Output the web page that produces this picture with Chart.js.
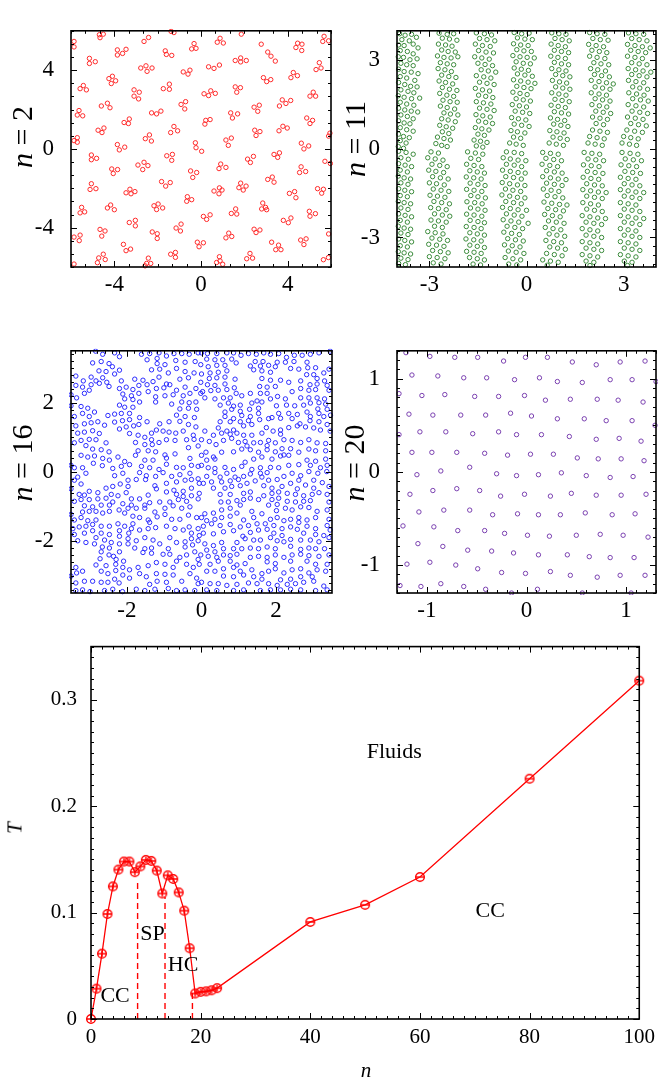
<!DOCTYPE html>
<html>
<head>
<meta charset="utf-8">
<script src="https://cdn.jsdelivr.net/npm/chart.js@4.4.1/dist/chart.umd.min.js"></script>
<style>
  body { margin: 0; background: #fff; width: 661px; height: 1081px; position: relative; overflow: hidden;
         font-family: 'Liberation Serif', 'DejaVu Serif', serif; }
  canvas { position: absolute; }
  .lab { position: absolute; white-space: nowrap; color: #000; transform: translate(-50%, -50%); line-height: 1; }
  .rot { transform: translate(-50%, -50%) rotate(-90deg); }
</style>
</head>
<body>
<canvas id="c1" style="left:0;top:0" width="345" height="300"></canvas>
<canvas id="c2" style="left:330px;top:0" width="331" height="300"></canvas>
<canvas id="c3" style="left:0;top:320px" width="345" height="310"></canvas>
<canvas id="c4" style="left:330px;top:320px" width="331" height="310"></canvas>
<canvas id="c5" style="left:0;top:620px" width="661" height="461"></canvas>

<div class="lab rot" style="left:22px;top:137px;font-size:30px"><i>n</i> = 2</div>
<div class="lab rot" style="left:355px;top:139px;font-size:30px"><i>n</i> = 11</div>
<div class="lab rot" style="left:22px;top:463px;font-size:30px"><i>n</i> = 16</div>
<div class="lab rot" style="left:354px;top:463px;font-size:30px"><i>n</i> = 20</div>
<div class="lab rot" style="left:15px;top:828px;font-size:21px"><i>T</i></div>
<div class="lab" style="left:366px;top:1070px;font-size:21px"><i>n</i></div>

<script>
// snapshots of particle positions, n = 2
var n2Points = [
[-5.86,5.46],[-5.86,5.18],[-4.69,5.8],[-4.51,5.83],[-4.66,5.65],[-2.63,5.46],[-2.42,5.66],[-1.38,5.97],[-1.25,5.91],[-0.32,5.35],[-0.43,5.08],[-0.23,5.11],[0.75,5.42],[0.88,5.62],[1.03,5.38],[1.86,5.83],[2.78,5.32],[4.38,5.15],[4.46,5.37],[4.66,5.32],[4.65,5.0],[5.68,5.72],[5.62,5.46],[5.89,5.49],
[-5.15,4.6],[-5.15,4.34],[-4.88,4.43],[-3.86,5.03],[-3.86,4.77],[-3.62,4.85],[-3.46,5.06],[-1.65,4.98],[-1.6,4.8],[-1.35,4.75],[0.35,4.17],[0.6,4.09],[0.85,4.26],[1.58,4.49],[1.83,4.62],[2.09,4.49],[1.83,4.42],[3.08,4.92],[3.23,4.71],[3.43,4.46],[5.46,4.38],[5.31,4.03],[5.54,4.11],
[-2.78,4.11],[-2.54,4.22],[-2.49,3.94],[-2.26,4.11],[-0.82,3.91],[-0.6,3.8],[-0.51,4.0],[2.88,3.62],[3.03,3.42],[3.22,3.52],[4.15,3.62],[4.26,3.88],[4.45,3.72],[-4.25,3.57],[-4.09,3.69],[-4.14,3.32],[-3.94,3.46],[-5.58,3.06],[-5.43,3.22],[-5.29,3.0],
[-3.09,3.0],[-2.85,2.88],[-3.09,2.68],[-2.88,2.54],[-1.74,3.06],[-1.46,3.29],[-1.46,3.03],[0.14,2.8],[0.35,2.71],[0.45,2.95],[0.66,2.82],[1.58,3.15],[1.82,3.11],[1.65,2.88],[5.18,2.88],[5.03,2.68],[5.29,2.68],
[-5.63,1.95],[-5.71,1.72],[-5.46,1.68],[-4.6,2.18],[-4.32,2.32],[-4.2,2.09],[-0.92,2.26],[-0.71,2.4],[-0.75,2.03],[2.45,2.12],[2.69,2.22],[2.62,1.91],[3.62,2.18],[3.75,2.49],[3.92,2.31],[4.14,2.46],[-2.28,1.83],[-2.05,1.78],[-1.85,1.92],[1.37,1.83],[1.45,1.57],[1.69,1.78],
[-3.55,1.34],[-3.31,1.52],[-3.35,1.29],[-4.75,0.95],[-4.48,1.06],[-4.57,0.83],[-1.4,0.83],[-1.25,1.14],[-1.08,0.92],[0.22,1.45],[0.42,1.49],[0.18,1.26],[2.48,0.95],[2.72,0.88],[2.54,0.68],[3.78,1.15],[3.6,0.92],[3.98,1.06],[4.88,1.57],[5.03,1.29],[5.15,1.45],[5.89,0.65],[5.95,0.8],
[-5.86,0.42],[-5.71,0.57],[-5.71,0.34],[-3.86,0.22],[-3.77,-0.05],[-3.52,0.09],[-2.57,0.52],[-2.38,0.71],[-2.29,0.4],[-0.26,0.31],[-0.23,0.06],[0.03,-0.12],[1.15,0.45],[1.4,0.55],[1.26,0.18],[4.63,0.29],[4.75,0],[4.97,0.15],
[-5.06,-0.31],[-5.06,-0.55],[-4.82,-0.48],[-2.91,-0.82],[-2.63,-0.68],[-2.69,-1.05],[-2.45,-0.85],[-1.58,-0.35],[-1.32,-0.28],[-1.35,-0.58],[-0.48,-1.12],[-0.38,-1.45],[-0.2,-1.2],[0.83,-1.0],[0.91,-0.77],[1.15,-0.94],[2.15,-0.52],[2.42,-0.38],[2.28,-0.69],[3.37,-0.28],[3.62,-0.2],[3.54,-0.43],[5.72,-0.63],[5.97,-0.74],
[-4.12,-1.02],[-4.05,-1.25],[-3.85,-1.05],[-1.82,-1.66],[-1.63,-1.89],[-1.42,-1.71],[-5.12,-2.06],[-5.06,-1.77],[-4.85,-2.02],[0.6,-2.14],[0.85,-1.98],[0.83,-2.28],[0.97,-2.09],[1.83,-1.74],[1.75,-1.97],[2.08,-1.89],[1.95,-2.09],[3.08,-1.55],[3.29,-1.43],[3.37,-1.69],[4.62,-0.91],[4.55,-1.2],[4.83,-1.15],[5.38,-2.02],[5.57,-2.25],[5.65,-2.05],
[-3.46,-2.23],[-3.28,-2.05],[-3.05,-2.17],[-3.23,-2.28],[-0.63,-2.43],[-0.43,-2.58],[-0.66,-2.66],[4.08,-2.26],[4.32,-2.17],[4.38,-2.48],[-2.17,-2.89],[-1.98,-2.8],[-1.77,-3.0],[-2.05,-3.08],[2.85,-2.75],[2.98,-2.97],[3.03,-3.09],[2.8,-3.05],[-5.51,-2.97],[-5.58,-3.25],[-5.37,-3.2],
[-4.32,-3.0],[-4.17,-2.85],[-4.0,-3.09],[0.11,-3.43],[0.26,-3.58],[0.42,-3.35],[1.4,-3.28],[1.6,-3.05],[1.65,-3.31],[5.0,-3.17],[5.03,-3.42],[5.28,-3.29],[-3.31,-3.74],[-3.03,-3.63],[-3.03,-3.91],[-1.15,-4.02],[-0.92,-3.82],[-0.95,-4.17],[3.8,-3.63],[4.03,-3.75],[4.15,-3.51],
[-5.86,-4.48],[-5.58,-4.38],[-5.62,-4.66],[-4.66,-4.09],[-4.43,-4.17],[-4.58,-4.43],[-2.25,-4.22],[-2.02,-4.31],[-2.02,-4.55],[1.15,-4.52],[1.28,-4.28],[1.42,-4.45],[2.45,-4.08],[2.54,-4.25],[2.72,-4.12],[5.89,-4.32],[4.6,-4.63],[4.85,-4.57],[4.75,-4.86],
[-3.58,-4.85],[-3.46,-5.17],[-3.25,-5.09],[-0.17,-4.74],[-0.09,-4.97],[0.11,-4.77],[3.26,-4.74],[3.58,-4.89],[3.45,-5.12],[3.69,-5.12],[-4.72,-5.54],[-4.51,-5.35],[-4.42,-5.62],[-2.43,-5.55],[-2.51,-5.82],[-2.32,-5.82],[-1.4,-5.35],[-1.18,-5.26],[-1.18,-5.51],[0.85,-5.48],[0.88,-5.69],[2.11,-5.58],[2.26,-5.31],[2.38,-5.55],[5.65,-5.63],[5.88,-5.52],[-5.86,-5.85],[-4.78,-5.78],[-2.58,-5.94],[1.0,-5.86],[0.72,-5.77]
];

// n = 11: stripes
var n11Points = [
[-3.92,3.9],[-3.75,3.85],[-3.55,3.88],[-3.4,3.78],[-3.85,3.7],[-3.62,3.66],[-3.95,3.52],[-3.78,3.5],[-3.5,3.55],[-3.35,3.42],[-3.9,3.33],[-3.68,3.3],[-3.5,3.22],[-3.96,3.12],[-3.8,3.1],[-3.6,3.02],[-3.38,3.05],[-3.88,2.9],[-3.7,2.85],[-3.5,2.82],[-3.95,2.7],[-3.78,2.62],[-3.56,2.6],[-3.35,2.55],[-3.9,2.45],[-3.7,2.4],[-3.45,2.32],[-3.95,2.25],[-3.76,2.18],[-3.58,2.12],[-3.38,2.1],[-3.88,2.0],[-3.66,1.95],[-3.48,1.9],[-3.96,1.8],[-3.78,1.75],[-3.55,1.7],[-3.3,1.72],[-3.9,1.58],[-3.7,1.52],[-3.48,1.48],[-3.95,1.38],[-3.76,1.32],[-3.56,1.28],[-3.36,1.25],[-3.88,1.15],[-3.68,1.1],[-3.5,1.02],[-3.95,0.95],[-3.78,0.88],[-3.6,0.85],[-3.9,0.72],[-3.7,0.65],[-3.5,0.6],[-3.95,0.5],[-3.8,0.42],[-3.62,0.38],[-3.9,0.28],[-3.72,0.2],[-3.96,0.08],[-3.8,0.02],
[-2.7,3.92],[-2.45,3.88],[-2.25,3.9],[-2.6,3.75],[-2.38,3.72],[-2.15,3.68],[-2.72,3.55],[-2.5,3.52],[-2.3,3.48],[-2.62,3.35],[-2.42,3.3],[-2.2,3.28],[-2.75,3.15],[-2.55,3.1],[-2.33,3.08],[-2.12,3.12],[-2.66,2.92],[-2.45,2.88],[-2.25,2.85],[-2.73,2.72],[-2.52,2.68],[-2.32,2.62],[-2.62,2.5],[-2.4,2.45],[-2.18,2.42],[-2.7,2.3],[-2.5,2.25],[-2.28,2.2],[-2.6,2.08],[-2.38,2.02],[-2.15,1.98],[-2.68,1.88],[-2.46,1.82],[-2.25,1.78],[-2.58,1.65],[-2.36,1.6],[-2.14,1.58],[-2.66,1.45],[-2.45,1.4],[-2.22,1.35],[-2.55,1.22],[-2.35,1.18],[-2.12,1.15],[-2.62,1.02],[-2.42,0.98],[-2.2,0.92],[-2.68,0.8],[-2.48,0.75],[-2.28,0.7],[-2.6,0.58],[-2.4,0.52],[-2.75,0.4],[-2.55,0.35],[-2.35,0.3],[-2.8,0.18],[-2.62,0.12],[-2.45,0.08],
[-1.55,3.93],[-1.3,3.9],[-1.08,3.86],[-1.45,3.74],[-1.22,3.7],[-0.98,3.66],[-1.58,3.55],[-1.36,3.5],[-1.12,3.47],[-1.48,3.33],[-1.25,3.28],[-1.02,3.25],[-1.6,3.12],[-1.38,3.08],[-1.15,3.04],[-1.5,2.9],[-1.28,2.86],[-1.05,2.82],[-1.4,2.68],[-1.18,2.64],[-0.95,2.6],[-1.55,2.48],[-1.32,2.44],[-1.1,2.4],[-1.45,2.26],[-1.22,2.22],[-1.0,2.18],[-1.58,2.05],[-1.36,2.0],[-1.14,1.96],[-1.48,1.82],[-1.26,1.78],[-1.04,1.74],[-1.55,1.6],[-1.33,1.56],[-1.1,1.52],[-1.45,1.38],[-1.22,1.34],[-1.0,1.3],[-1.56,1.16],[-1.35,1.12],[-1.12,1.08],[-1.48,0.94],[-1.26,0.9],[-1.05,0.86],[-1.58,0.72],[-1.38,0.68],[-1.16,0.64],[-1.5,0.5],[-1.3,0.46],[-1.62,0.3],[-1.42,0.26],[-1.22,0.22],[-1.55,0.1],[-1.35,0.06],
[-0.38,3.94],[-0.15,3.9],[0.08,3.92],[-0.28,3.76],[-0.05,3.72],[0.18,3.7],[-0.4,3.56],[-0.18,3.52],[0.05,3.5],[-0.3,3.36],[-0.08,3.32],[0.15,3.3],[-0.42,3.16],[-0.2,3.12],[0.02,3.1],[0.24,3.08],[-0.32,2.95],[-0.1,2.9],[0.12,2.88],[-0.38,2.74],[-0.16,2.7],[0.06,2.66],[-0.28,2.54],[-0.05,2.5],[0.18,2.46],[-0.4,2.34],[-0.18,2.3],[0.05,2.26],[0.26,2.22],[-0.3,2.12],[-0.08,2.08],[0.14,2.04],[-0.42,1.92],[-0.2,1.88],[0.02,1.84],[-0.32,1.7],[-0.1,1.66],[0.12,1.62],[-0.44,1.5],[-0.22,1.46],[0.0,1.42],[-0.35,1.28],[-0.12,1.24],[0.1,1.2],[-0.46,1.06],[-0.25,1.02],[-0.02,0.98],[-0.38,0.84],[-0.15,0.8],[0.08,0.76],[-0.48,0.62],[-0.28,0.58],[-0.05,0.54],[-0.4,0.4],[-0.18,0.36],[-0.52,0.2],[-0.32,0.16],[-0.1,0.12],
[0.78,3.93],[1.0,3.9],[1.22,3.88],[0.88,3.74],[1.1,3.7],[1.32,3.66],[0.76,3.55],[0.98,3.5],[1.2,3.46],[0.86,3.34],[1.08,3.3],[1.3,3.26],[0.75,3.14],[0.97,3.1],[1.2,3.06],[0.86,2.93],[1.08,2.88],[1.3,2.85],[0.78,2.72],[1.0,2.68],[1.22,2.64],[0.9,2.52],[1.12,2.48],[1.34,2.44],[0.8,2.32],[1.02,2.27],[1.24,2.23],[0.9,2.1],[1.12,2.06],[1.34,2.02],[0.78,1.9],[1.0,1.86],[1.22,1.82],[0.88,1.68],[1.1,1.64],[1.32,1.6],[0.76,1.48],[0.98,1.44],[1.2,1.4],[0.86,1.26],[1.08,1.22],[1.3,1.18],[0.74,1.05],[0.96,1.0],[1.18,0.96],[0.84,0.84],[1.06,0.8],[1.28,0.76],[0.72,0.62],[0.94,0.58],[1.16,0.54],[0.82,0.4],[1.04,0.36],[1.26,0.32],[0.7,0.2],[0.92,0.16],[1.14,0.12],
[1.95,3.94],[2.18,3.9],[2.42,3.88],[2.05,3.74],[2.28,3.7],[2.52,3.68],[1.92,3.54],[2.15,3.5],[2.38,3.46],[2.02,3.34],[2.25,3.3],[2.48,3.26],[1.95,3.14],[2.18,3.1],[2.42,3.06],[2.08,2.92],[2.3,2.88],[2.54,2.85],[1.98,2.72],[2.2,2.68],[2.44,2.64],[2.1,2.52],[2.32,2.48],[2.56,2.44],[2.0,2.32],[2.24,2.28],[2.47,2.24],[2.68,2.2],[2.12,2.1],[2.35,2.06],[2.58,2.02],[2.0,1.9],[2.24,1.86],[2.47,1.82],[2.12,1.7],[2.35,1.66],[2.58,1.62],[2.02,1.5],[2.25,1.46],[2.48,1.42],[2.14,1.28],[2.37,1.24],[2.6,1.2],[2.04,1.08],[2.27,1.04],[2.5,1.0],[2.15,0.86],[2.38,0.82],[2.04,0.64],[2.27,0.6],[2.5,0.56],[1.95,0.42],[2.18,0.38],[2.4,0.34],[1.9,0.2],[2.12,0.16],[2.34,0.12],
[3.15,3.93],[3.38,3.9],[3.62,3.88],[3.25,3.74],[3.48,3.7],[3.72,3.66],[3.12,3.54],[3.35,3.5],[3.58,3.46],[3.82,3.42],[3.22,3.34],[3.45,3.3],[3.68,3.26],[3.12,3.14],[3.35,3.1],[3.58,3.06],[3.25,2.92],[3.48,2.88],[3.72,2.85],[3.14,2.72],[3.37,2.68],[3.6,2.64],[3.84,2.6],[3.25,2.52],[3.48,2.48],[3.72,2.44],[3.15,2.32],[3.38,2.28],[3.62,2.24],[3.28,2.1],[3.5,2.06],[3.74,2.02],[3.16,1.9],[3.4,1.86],[3.63,1.82],[3.28,1.7],[3.52,1.66],[3.76,1.62],[3.14,1.5],[3.38,1.46],[3.62,1.42],[3.26,1.28],[3.5,1.24],[3.74,1.2],[3.12,1.08],[3.36,1.04],[3.6,1.0],[3.22,0.86],[3.46,0.82],[3.7,0.78],[3.1,0.64],[3.34,0.6],[3.58,0.56],[3.0,0.42],[3.22,0.38],[3.45,0.34],[2.95,0.2],[3.18,0.16],[3.4,0.12],
[-3.95,-0.08],[-3.72,-0.12],[-3.5,-0.18],[-3.88,-0.3],[-3.65,-0.35],[-3.95,-0.5],[-3.75,-0.55],[-3.55,-0.6],[-3.9,-0.72],[-3.68,-0.78],[-3.96,-0.92],[-3.78,-0.98],[-3.58,-1.02],[-3.88,-1.15],[-3.66,-1.2],[-3.95,-1.35],[-3.76,-1.4],[-3.55,-1.45],[-3.9,-1.58],[-3.68,-1.62],[-3.96,-1.78],[-3.78,-1.82],[-3.58,-1.86],[-3.88,-2.0],[-3.66,-2.05],[-3.95,-2.2],[-3.75,-2.25],[-3.55,-2.3],[-3.9,-2.42],[-3.68,-2.48],[-3.96,-2.62],[-3.78,-2.68],[-3.58,-2.72],[-3.88,-2.85],[-3.66,-2.9],[-3.95,-3.05],[-3.76,-3.1],[-3.55,-3.15],[-3.9,-3.28],[-3.68,-3.32],[-3.96,-3.48],[-3.78,-3.52],[-3.58,-3.56],[-3.88,-3.7],[-3.66,-3.75],[-3.95,-3.88],[-3.74,-3.92],
[-2.95,-0.1],[-2.72,-0.14],[-3.05,-0.3],[-2.82,-0.34],[-2.58,-0.38],[-2.92,-0.52],[-2.68,-0.56],[-2.45,-0.6],[-3.02,-0.72],[-2.8,-0.76],[-2.56,-0.8],[-2.9,-0.94],[-2.66,-0.98],[-2.42,-1.02],[-3.0,-1.15],[-2.78,-1.18],[-2.54,-1.22],[-2.88,-1.36],[-2.64,-1.4],[-2.4,-1.44],[-2.98,-1.57],[-2.75,-1.6],[-2.52,-1.64],[-2.86,-1.78],[-2.62,-1.82],[-2.38,-1.86],[-2.96,-1.99],[-2.72,-2.02],[-2.48,-2.06],[-2.84,-2.2],[-2.6,-2.24],[-2.37,-2.28],[-2.95,-2.41],[-2.72,-2.44],[-2.48,-2.48],[-2.84,-2.62],[-2.6,-2.66],[-3.05,-2.8],[-2.82,-2.84],[-2.58,-2.88],[-2.92,-3.02],[-2.68,-3.06],[-2.44,-3.1],[-3.02,-3.23],[-2.78,-3.26],[-2.55,-3.3],[-2.9,-3.44],[-2.66,-3.48],[-2.42,-3.52],[-3.0,-3.65],[-2.76,-3.68],[-2.52,-3.72],[-2.88,-3.86],[-2.64,-3.9],
[-1.82,-0.1],[-1.58,-0.14],[-1.35,-0.18],[-1.72,-0.32],[-1.48,-0.36],[-1.85,-0.52],[-1.62,-0.56],[-1.38,-0.6],[-1.75,-0.74],[-1.52,-0.78],[-1.3,-0.82],[-1.86,-0.95],[-1.63,-0.98],[-1.4,-1.02],[-1.74,-1.16],[-1.5,-1.2],[-1.28,-1.24],[-1.85,-1.37],[-1.62,-1.4],[-1.38,-1.44],[-1.72,-1.58],[-1.5,-1.62],[-1.27,-1.66],[-1.84,-1.79],[-1.6,-1.82],[-1.37,-1.86],[-1.73,-2.0],[-1.5,-2.04],[-1.28,-2.08],[-1.85,-2.21],[-1.62,-2.24],[-1.38,-2.28],[-1.74,-2.42],[-1.5,-2.46],[-1.3,-2.5],[-1.86,-2.63],[-1.62,-2.66],[-1.4,-2.7],[-1.75,-2.84],[-1.52,-2.88],[-1.3,-2.92],[-1.87,-3.05],[-1.63,-3.08],[-1.4,-3.12],[-1.75,-3.26],[-1.52,-3.3],[-1.3,-3.34],[-1.85,-3.47],[-1.62,-3.5],[-1.4,-3.54],[-1.76,-3.68],[-1.52,-3.72],[-1.3,-3.76],[-1.65,-3.9],[-1.42,-3.93],
[-0.62,-0.1],[-0.38,-0.12],[-0.15,-0.16],[-0.72,-0.3],[-0.5,-0.34],[-0.26,-0.38],[-0.02,-0.4],[-0.62,-0.52],[-0.38,-0.55],[-0.15,-0.6],[-0.74,-0.72],[-0.5,-0.76],[-0.26,-0.8],[-0.04,-0.82],[-0.64,-0.94],[-0.4,-0.97],[-0.16,-1.02],[-0.75,-1.14],[-0.52,-1.18],[-0.28,-1.22],[-0.05,-1.24],[-0.65,-1.36],[-0.42,-1.4],[-0.18,-1.44],[-0.76,-1.56],[-0.52,-1.6],[-0.28,-1.64],[-0.05,-1.66],[-0.64,-1.78],[-0.4,-1.82],[-0.16,-1.86],[-0.74,-1.98],[-0.5,-2.02],[-0.26,-2.06],[0.0,-2.08],[-0.62,-2.2],[-0.38,-2.24],[-0.14,-2.28],[-0.72,-2.4],[-0.48,-2.44],[-0.24,-2.48],[0.05,-2.52],[-0.6,-2.62],[-0.36,-2.66],[-0.12,-2.7],[-0.7,-2.82],[-0.46,-2.86],[-0.22,-2.9],[-0.58,-3.04],[-0.34,-3.08],[-0.1,-3.12],[-0.68,-3.25],[-0.44,-3.28],[-0.2,-3.32],[-0.56,-3.46],[-0.32,-3.5],[-0.08,-3.54],[-0.66,-3.68],[-0.42,-3.72],[-0.18,-3.76],[-0.55,-3.9],[-0.3,-3.93],
[0.5,-0.12],[0.74,-0.15],[0.98,-0.18],[0.6,-0.32],[0.84,-0.36],[1.08,-0.4],[0.48,-0.52],[0.72,-0.56],[0.96,-0.6],[0.62,-0.74],[0.86,-0.78],[1.1,-0.82],[0.5,-0.94],[0.74,-0.98],[0.98,-1.02],[1.22,-1.04],[0.62,-1.16],[0.86,-1.2],[1.1,-1.24],[0.52,-1.36],[0.76,-1.4],[1.0,-1.44],[0.64,-1.58],[0.88,-1.62],[1.12,-1.66],[0.54,-1.8],[0.78,-1.84],[1.02,-1.88],[1.25,-1.9],[0.66,-2.02],[0.9,-2.06],[1.14,-2.1],[0.56,-2.22],[0.8,-2.26],[1.04,-2.3],[0.68,-2.44],[0.92,-2.48],[1.16,-2.52],[0.58,-2.66],[0.82,-2.7],[1.06,-2.74],[0.7,-2.88],[0.94,-2.92],[1.18,-2.96],[0.6,-3.1],[0.84,-3.14],[1.08,-3.18],[0.72,-3.32],[0.96,-3.36],[1.2,-3.4],[0.62,-3.54],[0.86,-3.58],[1.1,-3.62],[0.5,-3.76],[0.74,-3.8],[0.98,-3.84],[0.64,-3.94],
[1.78,-0.12],[2.02,-0.15],[2.26,-0.18],[1.9,-0.34],[2.14,-0.37],[2.38,-0.4],[1.76,-0.54],[2.0,-0.57],[2.24,-0.6],[1.88,-0.76],[2.12,-0.8],[2.36,-0.83],[1.75,-0.96],[1.99,-1.0],[2.23,-1.03],[1.86,-1.18],[2.1,-1.22],[2.34,-1.25],[1.74,-1.38],[1.98,-1.42],[2.22,-1.46],[2.46,-1.48],[1.86,-1.6],[2.1,-1.64],[2.34,-1.68],[1.74,-1.82],[1.98,-1.86],[2.22,-1.9],[1.86,-2.04],[2.1,-2.08],[2.34,-2.12],[1.72,-2.26],[1.96,-2.3],[2.2,-2.34],[2.44,-2.36],[1.84,-2.48],[2.08,-2.52],[2.32,-2.56],[1.72,-2.7],[1.96,-2.74],[2.2,-2.78],[1.84,-2.92],[2.08,-2.96],[2.32,-3.0],[1.72,-3.14],[1.96,-3.18],[2.2,-3.22],[1.84,-3.36],[2.08,-3.4],[2.32,-3.44],[1.72,-3.58],[1.96,-3.62],[2.2,-3.66],[1.84,-3.8],[2.08,-3.84],[1.96,-3.95],
[2.95,-0.12],[3.2,-0.15],[3.44,-0.18],[3.05,-0.34],[3.3,-0.37],[3.55,-0.4],[2.92,-0.54],[3.16,-0.57],[3.4,-0.6],[3.04,-0.76],[3.28,-0.8],[3.52,-0.83],[2.9,-0.96],[3.14,-1.0],[3.38,-1.03],[3.02,-1.18],[3.26,-1.22],[3.5,-1.25],[2.9,-1.38],[3.14,-1.42],[3.38,-1.46],[3.62,-1.48],[3.02,-1.6],[3.26,-1.64],[3.5,-1.68],[2.9,-1.82],[3.14,-1.86],[3.38,-1.9],[3.02,-2.04],[3.26,-2.08],[3.5,-2.12],[2.9,-2.26],[3.14,-2.3],[3.38,-2.34],[3.62,-2.36],[3.02,-2.48],[3.26,-2.52],[3.5,-2.56],[2.9,-2.7],[3.14,-2.74],[3.38,-2.78],[3.02,-2.92],[3.26,-2.96],[3.5,-3.0],[2.9,-3.14],[3.14,-3.18],[3.38,-3.22],[3.02,-3.36],[3.26,-3.4],[3.5,-3.44],[2.9,-3.58],[3.14,-3.62],[3.38,-3.66],[3.02,-3.8],[3.26,-3.84],[3.12,-3.95]
];

// n = 16: ring-like clusters
var n16Points = [
[-2.84,3.49],[-2.65,3.40],[-2.33,3.44],[-2.20,3.33],[-1.61,3.40],[-1.39,3.42],[-1.14,3.44],[-0.94,3.35],[-0.74,3.42],[-0.53,3.42],[-0.33,3.40],[-0.09,3.44],
[-2.92,3.15],[-2.69,3.19],[-2.48,3.13],[-1.46,3.24],[-1.19,3.28],[-1.19,3.13],[-0.98,3.10],[-0.69,3.22],[-0.44,3.17],[-0.17,3.19],
[-2.75,2.92],[-2.56,2.90],[-2.39,3.04],[-2.20,2.94],[-2.33,2.83],[-1.34,2.95],[-1.12,2.97],[-0.89,2.86],[-0.67,2.99],[-0.44,2.90],[-0.20,2.86],
[-3.37,2.77],[-3.17,2.63],[-2.96,2.74],[-2.83,2.63],[-2.65,2.72],[-2.54,2.59],[-2.74,2.56],[-2.15,2.63],[-1.79,2.68],[-1.57,2.65],[-1.30,2.61],[-1.14,2.74],[-0.94,2.54],[-0.58,2.68],[-0.35,2.72],
[-3.37,2.50],[-3.19,2.45],[-2.96,2.52],[-3.01,2.36],[-2.48,2.47],[-2.20,2.41],[-2.02,2.45],[-1.84,2.38],[-1.68,2.50],[-1.46,2.52],[-1.21,2.41],[-1.01,2.43],[-0.85,2.52],[-0.67,2.36],[-0.44,2.45],[-0.15,2.41],[-0.02,2.27],
[-3.50,2.23],[-3.35,2.14],[-3.14,2.27],[-2.11,2.25],[-1.88,2.20],[-1.68,2.27],[-1.43,2.32],[-1.23,2.17],[-0.98,2.20],[-0.76,2.23],[-0.49,2.20],[-0.31,2.27],
[-2.06,2.11],[-1.84,2.09],[-1.66,2.02],[-1.23,2.02],[-0.80,1.96],[-0.53,2.02],[-0.33,2.00],[-0.15,2.02],[-3.50,1.91],[-3.23,1.89],[-3.05,1.84],[-2.20,1.93],[-2.06,1.87],[-1.84,1.87],[-0.58,1.82],[-0.35,1.84],[-0.13,1.81],
[-3.41,1.60],[-3.19,1.69],[-2.87,1.73],[-3.01,1.60],[-2.51,1.63],[-2.33,1.67],[-2.15,1.69],[-1.93,1.69],[-2.33,1.44],[-2.12,1.48],[-1.93,1.51],[-1.66,1.57],[-1.46,1.45],[-1.12,1.39],[-0.87,1.45],[-0.67,1.64],[-0.44,1.60],[-0.19,1.57],[-0.58,1.46],[-0.35,1.37],
[-3.37,1.33],[-3.14,1.39],[-2.96,1.42],[-2.78,1.45],[-2.60,1.35],[-2.20,1.24],[-2.02,1.30],[-1.82,1.33],[-1.68,1.37],[-1.34,1.12],[-1.21,1.21],[-1.03,1.18],[-0.87,1.15],[-0.69,1.12],[-0.49,1.18],[-0.15,1.30],[-3.32,1.12],[-3.14,1.15],[-2.92,1.19],[-2.74,1.11],[-0.22,1.06],
[-1.93,1.11],[-1.70,1.06],[-1.52,1.00],[-1.34,0.93],[-1.14,0.85],[-0.94,0.93],[-0.71,0.91],[-0.40,0.93],[-0.20,0.94],[-3.41,0.84],[-3.23,0.91],[-3.01,0.94],[-2.83,0.93],[-2.56,0.84],[-1.77,0.85],[-1.52,0.79],[-1.32,0.79],[-0.35,0.70],[-0.09,0.75],
[-3.10,0.76],[-2.92,0.66],[-2.69,0.64],[-2.48,0.58],[-1.70,0.61],[-1.43,0.61],[-1.23,0.58],[-0.98,0.49],[-0.71,0.52],[-3.23,0.48],[-3.05,0.43],[-2.87,0.46],[-2.65,0.39],[-2.47,0.34],[-2.24,0.43],[-2.06,0.30],[-1.77,0.48],[-1.52,0.34],[-1.30,0.34],[-0.94,0.40],[-0.31,0.39],
[-3.50,0.19],[-3.41,0.12],[-3.19,0.12],[-2.90,0.25],[-2.66,0.18],[-2.38,0.10],[-2.15,0.16],[-1.93,0.21],[-1.61,0.16],[-1.39,0.12],[-1.14,0.07],[-0.94,0.22],[-0.67,0.13],[-0.49,0.12],[-0.27,0.19],[-0.09,0.16],
[-3.32,-0.15],[-3.10,-0.04],[-2.33,-0.11],[-2.11,-0.04],[-1.97,-0.24],[-1.66,-0.02],[-1.48,-0.11],[-1.23,-0.13],[-1.03,-0.02],[-0.80,-0.13],[-0.58,-0.08],[-0.31,-0.04],[-0.09,-0.20],
[-3.41,-0.24],[-3.23,-0.35],[-2.38,-0.42],[-2.18,-0.35],[-1.97,-0.42],[-1.75,-0.22],[-1.50,-0.22],[-1.25,-0.40],[-0.94,-0.33],[-0.67,-0.29],[-0.44,-0.24],[-0.27,-0.22],[-0.06,-0.33],
[-3.50,-0.49],[-3.28,-0.65],[-3.14,-0.67],[-3.01,-0.56],[-2.78,-0.60],[-2.56,-0.47],[-2.42,-0.65],[-2.24,-0.69],[-2.02,-0.60],[-1.88,-0.78],[-1.66,-0.78],[-1.43,-0.67],[-1.21,-0.49],[-0.94,-0.58],[-0.74,-0.53],[-0.49,-0.56],[-0.27,-0.47],[-0.67,-0.65],[-0.49,-0.71],[-0.27,-0.69],[-0.06,-0.62],
[-3.41,-0.85],[-3.23,-0.80],[-3.01,-0.80],[-2.78,-0.78],[-2.56,-0.76],[-2.38,-0.87],[-2.11,-0.92],[-1.88,-0.96],[-1.75,-1.05],[-1.52,-0.96],[-1.39,-0.89],[-1.12,-0.87],[-0.85,-0.87],[-0.62,-0.80],[-0.40,-0.85],[-0.09,-0.78],
[-3.14,-0.98],[-2.92,-1.01],[-2.69,-0.96],[-2.47,-0.96],[-2.21,-1.10],[-1.97,-1.05],[-1.52,-1.05],[-1.25,-1.16],[-0.98,-1.05],[-0.76,-0.98],[-0.53,-1.05],[-0.31,-1.01],
[-3.50,-1.23],[-3.41,-1.39],[-3.19,-1.16],[-3.01,-1.14],[-2.83,-1.14],[-2.65,-1.19],[-2.47,-1.14],[-2.06,-1.19],[-3.23,-1.32],[-3.05,-1.41],[-2.83,-1.39],[-1.84,-1.28],[-1.66,-1.32],[-1.43,-1.39],[-1.19,-1.30],[-0.98,-1.23],[-0.80,-1.37],[-0.58,-1.37],[-0.35,-1.25],[-0.13,-1.32],[-1.84,-1.50],[-1.39,-1.46],
[-3.45,-1.64],[-3.28,-1.59],[-3.10,-1.57],[-2.92,-1.52],[-2.69,-1.57],[-2.47,-1.57],[-2.24,-1.50],[-2.06,-1.57],[-1.88,-1.64],[-3.41,-1.81],[-3.14,-1.77],[-2.92,-1.70],[-2.69,-1.77],[-2.47,-1.81],[-2.20,-1.70],[-1.95,-1.77],[-1.66,-1.68],[-1.43,-1.64],[-1.23,-1.61],[-0.94,-1.57],[-0.71,-1.64],[-0.49,-1.68],[-0.33,-1.59],[-0.09,-1.64],[-0.27,-1.77],[-0.06,-1.84],
[-3.32,-1.99],[-3.10,-2.04],[-2.83,-1.90],[-2.60,-1.97],[-2.42,-2.04],[-2.20,-1.86],[-1.97,-1.93],[-1.75,-1.99],[-1.52,-1.90],[-1.30,-1.97],[-1.12,-2.08],[-0.85,-1.90],[-0.67,-2.04],[-0.44,-2.02],[-0.27,-1.93],[-0.09,-1.99],
[-2.87,-2.08],[-2.66,-2.17],[-2.47,-2.20],[-2.20,-2.08],[-1.97,-2.08],[-1.79,-2.20],[-1.52,-2.22],[-1.34,-2.20],[-0.89,-2.22],[-0.44,-2.17],[-0.24,-2.11],
[-2.69,-2.31],[-2.48,-2.40],[-2.36,-2.44],[-2.20,-2.31],[-2.09,-2.58],[-2.29,-2.53],[-1.57,-2.33],[-1.34,-2.35],[-1.03,-2.38],[-0.85,-2.38],[-0.58,-2.47],[-0.40,-2.40],[-0.18,-2.31],[-0.09,-2.53],[-2.72,-2.51],
[-3.37,-2.76],[-3.19,-2.87],[-2.83,-2.69],[-2.56,-2.71],[-2.30,-2.67],[-2.30,-2.85],[-2.11,-2.76],[-1.93,-2.83],[-1.70,-2.76],[-1.43,-2.71],[-1.21,-2.62],[-0.98,-2.67],[-0.76,-2.76],[-0.67,-2.58],[-0.40,-2.67],[-0.22,-2.76],[-0.06,-2.67],[-3.35,-2.92],
[-3.50,-3.01],[-3.14,-3.16],[-2.92,-3.16],[-2.69,-2.87],[-2.51,-2.94],[-2.33,-3.10],[-2.11,-2.98],[-1.93,-3.07],[-1.66,-2.94],[-1.48,-3.03],[-1.21,-2.94],[-0.98,-2.96],[-0.76,-2.98],[-0.53,-3.16],[-0.31,-2.94],[-0.13,-3.07],[-3.37,-3.21],[-2.69,-3.19],[-2.51,-3.19],[-2.21,-3.21],[-1.39,-3.25],[-1.19,-3.16],[-0.94,-3.19],[-0.09,-3.23],
[-3.37,-3.43],[-3.19,-3.41],[-2.99,-3.46],[-2.60,-3.43],[-2.38,-3.39],[-2.12,-3.46],[-1.75,-3.39],[-1.52,-3.43],[-1.25,-3.39],[-0.89,-3.37],[-0.67,-3.43],[-0.44,-3.41],[-0.18,-3.43],
[0.00,3.44],[0.16,3.42],[0.41,3.42],[0.68,3.44],[0.86,3.44],[1.06,3.37],[1.26,3.42],[1.47,3.40],[1.67,3.44],[1.85,3.40],[2.07,3.42],[2.28,3.31],[2.49,3.37],[2.70,3.37],[2.92,3.40],[3.15,3.44],[3.45,3.49],
[0.14,3.26],[0.36,3.24],[0.57,3.24],[0.81,3.26],[0.93,3.15],[1.44,3.19],[1.65,3.19],[2.03,3.17],[2.25,3.17],[2.48,3.19],[2.83,3.17],
[-0.02,3.10],[0.18,3.04],[0.41,3.08],[0.63,3.08],[1.31,3.06],[1.58,3.06],[1.80,3.08],[1.98,3.04],[2.39,2.99],[2.61,2.97],[2.85,3.01],[3.06,3.01],[3.42,2.97],
[0.00,2.83],[0.23,2.86],[0.45,2.88],[0.68,2.92],[1.40,2.95],[1.62,2.92],[1.85,2.88],[2.82,2.81],[3.01,2.81],[3.28,2.86],
[-0.02,2.59],[0.21,2.70],[0.41,2.72],[0.63,2.74],[0.90,2.68],[1.62,2.70],[1.85,2.65],[2.12,2.65],[2.34,2.59],[2.66,2.63],[3.10,2.70],[3.30,2.63],[0.16,2.52],[0.36,2.50],[0.63,2.54],[1.56,2.47],[1.76,2.45],[1.98,2.47],[2.91,2.52],[3.10,2.54],[3.37,2.50],
[0.03,2.32],[0.25,2.35],[0.45,2.36],[0.68,2.38],[0.88,2.43],[0.93,2.27],[1.08,2.20],[1.31,2.27],[1.58,2.27],[1.76,2.27],[1.85,2.11],[2.04,2.18],[2.25,2.11],[2.43,2.32],[2.66,2.41],[2.88,2.36],[3.06,2.38],[3.42,2.36],[0.09,2.14],[0.36,2.11],[0.59,2.14],[0.77,2.14],[2.66,2.14],[2.88,2.14],[3.10,2.14],[3.30,2.11],
[0.50,1.93],[0.72,1.99],[0.86,1.90],[1.04,1.93],[1.35,1.99],[1.49,2.05],[1.62,2.02],[2.01,1.91],[2.28,1.93],[2.50,1.91],[2.74,1.93],[2.92,1.99],[3.15,2.00],[3.33,1.96],[0.63,1.73],[0.81,1.81],[1.04,1.75],[1.29,1.81],[1.53,1.84],[3.12,1.82],[3.37,1.81],
[0.63,1.60],[0.86,1.54],[1.08,1.63],[1.31,1.60],[1.53,1.69],[1.89,1.57],[2.07,1.69],[2.34,1.69],[2.57,1.66],[2.83,1.73],[3.15,1.69],[2.92,1.60],[3.28,1.60],[3.46,1.64],[0.50,1.45],[0.77,1.45],[1.04,1.45],[1.26,1.48],[1.56,1.51],[1.80,1.54],[2.12,1.55],[2.43,1.54],[2.64,1.39],[2.91,1.48],[3.15,1.45],[3.37,1.37],
[0.09,1.18],[0.45,1.27],[0.68,1.18],[0.86,1.21],[1.13,1.33],[1.35,1.37],[1.74,1.28],[1.92,1.18],[2.12,1.21],[2.34,1.28],[2.57,1.33],[2.79,1.30],[3.01,1.27],[3.19,1.21],[3.45,1.18],[0.32,1.06],[0.54,1.12],[0.77,1.09],[0.95,1.12],[1.13,1.06],[1.35,1.06],[1.62,1.12],[2.12,1.09],
[0.00,0.93],[0.21,0.88],[0.39,0.79],[0.59,0.91],[0.81,0.97],[0.99,0.85],[1.17,0.88],[1.40,0.84],[1.58,0.85],[1.80,0.91],[1.98,0.84],[2.21,0.93],[2.43,0.91],[2.66,0.85],[2.88,0.93],[3.10,0.84],[3.33,0.82],[1.22,0.75],[1.76,0.76],[2.16,0.67],[2.39,0.67],[2.88,0.66],
[0.00,0.48],[0.12,0.57],[0.32,0.43],[0.54,0.57],[0.86,0.58],[1.08,0.66],[1.31,0.64],[1.53,0.57],[1.76,0.64],[1.98,0.58],[2.21,0.49],[2.61,0.57],[3.06,0.61],[3.33,0.61],[0.14,0.34],[0.36,0.37],[1.17,0.28],[1.40,0.37],[1.62,0.43],[1.89,0.37],[2.12,0.46],[2.34,0.48],[2.61,0.21],[2.83,0.34],[3.06,0.31],[3.33,0.37],
[0.00,0.19],[0.18,0.12],[0.36,0.10],[0.63,0.13],[0.86,0.07],[1.08,0.16],[1.35,0.07],[1.58,0.12],[1.85,0.13],[2.07,0.12],[2.34,0.19],[2.92,0.19],[3.19,0.12],[3.37,0.19],
[0.14,-0.13],[0.36,-0.02],[0.50,-0.15],[0.68,-0.04],[0.90,-0.15],[1.13,-0.13],[1.31,-0.06],[1.58,-0.04],[1.76,-0.02],[2.21,-0.13],[2.43,-0.04],[2.66,-0.11],[2.88,0.01],[3.12,-0.04],[3.36,0.01],
[0.05,-0.33],[0.27,-0.29],[0.54,-0.29],[0.77,-0.26],[0.99,-0.22],[1.22,-0.33],[1.44,-0.26],[1.62,-0.15],[1.80,-0.24],[2.03,-0.22],[2.16,-0.42],[2.39,-0.33],[2.61,-0.24],[2.79,-0.38],[3.01,-0.24],[3.24,-0.31],[3.42,-0.42],[0.32,-0.47],[0.63,-0.47],[0.81,-0.42],[1.04,-0.40],[1.67,-0.40],[1.89,-0.47],[2.57,-0.49],[3.01,-0.47],
[0.50,-0.65],[0.77,-0.65],[1.13,-0.62],[1.31,-0.58],[1.67,-0.69],[1.89,-0.62],[2.07,-0.58],[2.30,-0.62],[2.52,-0.65],[2.74,-0.69],[2.97,-0.65],[3.15,-0.60],[3.37,-0.65],[0.52,-0.87],[0.72,-0.87],[0.95,-0.83],[1.13,-0.80],[1.31,-0.76],[1.53,-0.80],[1.89,-0.80],[2.07,-0.76],[2.30,-0.85],[2.52,-0.87],[2.74,-0.85],[2.92,-0.83],[3.42,-0.87],
[0.09,-1.21],[0.32,-1.19],[0.54,-1.10],[0.77,-1.05],[1.04,-0.96],[1.80,-0.96],[2.03,-0.94],[2.25,-1.05],[2.43,-1.10],[2.66,-1.01],[2.88,-1.03],[3.10,-1.14],[3.37,-1.10],[0.00,-1.32],[0.77,-1.28],[0.95,-1.19],[1.35,-1.14],[1.62,-1.21],[2.01,-1.12],
[0.14,-1.41],[0.36,-1.37],[0.54,-1.32],[1.13,-1.39],[1.40,-1.32],[1.85,-1.37],[2.03,-1.32],[2.21,-1.41],[2.39,-1.37],[2.61,-1.32],[2.83,-1.39],[3.06,-1.32],[3.42,-1.37],[0.05,-1.57],[0.27,-1.50],[0.50,-1.55],[0.77,-1.52],[1.04,-1.59],[1.26,-1.55],[1.49,-1.50],[1.71,-1.50],[1.94,-1.55],[2.16,-1.64],[2.39,-1.59],[2.61,-1.46],[2.83,-1.57],[3.06,-1.64],[3.37,-1.55],
[0.05,-1.77],[0.32,-1.79],[0.59,-1.73],[0.86,-1.70],[1.11,-1.86],[1.31,-1.75],[1.53,-1.68],[1.76,-1.66],[1.94,-1.77],[2.16,-1.84],[2.57,-1.66],[2.74,-1.77],[3.06,-1.81],[3.28,-1.84],[3.45,-1.68],
[0.09,-2.08],[0.32,-2.13],[0.54,-2.04],[0.95,-2.04],[1.17,-1.93],[1.40,-1.97],[1.58,-1.97],[1.85,-1.90],[2.03,-1.99],[2.21,-2.02],[2.39,-1.95],[2.66,-1.97],[2.92,-1.97],[3.15,-2.02],[3.42,-1.90],
[0.14,-2.26],[0.36,-2.31],[0.59,-2.22],[0.86,-2.22],[1.08,-2.22],[1.31,-2.20],[1.53,-2.22],[1.76,-2.17],[1.98,-2.22],[2.39,-2.15],[2.66,-2.24],[2.88,-2.20],[3.06,-2.22],[3.30,-2.22],
[-0.02,-2.40],[0.18,-2.44],[0.41,-2.47],[0.59,-2.40],[0.77,-2.42],[0.95,-2.38],[1.31,-2.47],[1.53,-2.44],[1.76,-2.47],[1.98,-2.40],[2.21,-2.47],[2.43,-2.40],[2.66,-2.38],[2.88,-2.42],[3.15,-2.44],[3.42,-2.40],
[0.23,-2.67],[0.45,-2.58],[0.77,-2.58],[0.95,-2.69],[1.17,-2.65],[1.76,-2.60],[1.98,-2.65],[2.39,-2.58],[2.83,-2.58],[3.06,-2.67],[3.37,-2.67],
[0.14,-2.87],[0.36,-2.87],[0.59,-2.80],[0.86,-2.76],[1.04,-2.87],[1.35,-2.83],[1.62,-2.94],[1.80,-2.87],[1.98,-2.80],[2.21,-2.92],[2.43,-2.83],[2.66,-2.80],[2.88,-2.92],[3.10,-2.83],[3.33,-2.87],
[0.59,-3.01],[0.86,-3.03],[1.13,-2.98],[1.40,-3.03],[1.62,-3.10],[2.12,-3.12],[2.39,-3.10],[2.66,-3.03],[2.97,-3.03],
[0.00,-3.19],[0.23,-3.23],[0.45,-3.23],[0.68,-3.28],[0.95,-3.25],[1.26,-3.21],[1.49,-3.23],[1.80,-3.23],[2.03,-3.28],[2.30,-3.25],[2.52,-3.23],[2.74,-3.19],[3.01,-3.16],[3.28,-3.30],
[0.14,-3.41],[0.41,-3.43],[0.86,-3.43],[1.13,-3.41],[1.58,-3.43],[1.85,-3.41],[2.12,-3.41],[2.39,-3.39],[2.66,-3.41],[3.06,-3.43],[3.37,-3.41]
];

// n = 20: triangular lattice
var n20Points = [
[-1.21,1.28],[-0.97,1.24],[-0.72,1.23],[-0.49,1.23],[-0.23,1.19],[-0.01,1.23],[0.21,1.23],[0.46,1.18],[0.70,1.15],[0.94,1.18],[1.19,1.19],
[-1.15,1.04],[-0.89,1.03],[-0.63,1.01],[-0.40,1.01],[-0.12,0.99],[0.13,1.01],[0.31,0.97],[0.56,0.96],[0.84,0.99],[1.06,0.99],[1.30,0.97],
[-1.28,0.84],[-1.05,0.82],[-0.82,0.83],[-0.52,0.81],[-0.28,0.81],[-0.02,0.82],[0.19,0.77],[0.44,0.78],[0.71,0.78],[0.92,0.77],[1.17,0.75],
[-1.18,0.62],[-0.94,0.61],[-0.66,0.61],[-0.41,0.61],[-0.16,0.63],[0.05,0.60],[0.31,0.57],[0.58,0.57],[0.80,0.55],[1.06,0.55],[1.29,0.50],
[-1.28,0.40],[-1.07,0.43],[-0.81,0.43],[-0.54,0.41],[-0.28,0.43],[-0.10,0.40],[0.15,0.40],[0.43,0.38],[0.70,0.35],[0.93,0.36],[1.15,0.33],
[-1.15,0.21],[-0.95,0.21],[-0.70,0.21],[-0.42,0.20],[-0.19,0.18],[0.04,0.19],[0.27,0.19],[0.51,0.15],[0.72,0.14],[0.95,0.14],[1.18,0.12],
[-1.10,-0.03],[-0.86,0.01],[-0.57,0.05],[-0.30,-0.02],[-0.10,-0.04],[0.12,-0.03],[0.35,-0.01],[0.60,-0.04],[0.84,-0.06],[1.07,-0.05],
[-1.17,-0.24],[-0.94,-0.20],[-0.70,-0.18],[-0.47,-0.20],[-0.26,-0.26],[-0.02,-0.24],[0.24,-0.26],[0.45,-0.23],[0.70,-0.25],[0.95,-0.25],[1.20,-0.24],
[-1.08,-0.43],[-0.83,-0.41],[-0.57,-0.41],[-0.34,-0.46],[-0.09,-0.45],[0.12,-0.46],[0.34,-0.46],[0.59,-0.44],[0.86,-0.46],[1.09,-0.45],
[-1.24,-0.58],[-0.93,-0.59],[-0.69,-0.63],[-0.42,-0.63],[-0.22,-0.66],[0.01,-0.68],[0.23,-0.69],[0.50,-0.68],[0.74,-0.67],[0.97,-0.68],[1.22,-0.70],
[-1.09,-0.77],[-0.84,-0.80],[-0.59,-0.84],[-0.35,-0.85],[-0.13,-0.87],[0.12,-0.89],[0.41,-0.89],[0.63,-0.91],[0.84,-0.92],[1.08,-0.92],
[-1.20,-0.99],[-0.97,-0.97],[-0.71,-1.00],[-0.49,-1.04],[-0.25,-1.08],[-0.01,-1.09],[0.24,-1.07],[0.44,-1.11],[0.71,-1.13],[0.94,-1.11],[1.19,-1.11],
[-1.27,-1.22],[-1.06,-1.23],[-0.86,-1.20],[-0.63,-1.23],[-0.41,-1.26],[-0.15,-1.30],[0.11,-1.26],[0.56,-1.30],[1.05,-1.30]
];

// phase diagram T(n)
var nValues = [0,1,2,3,4,5,6,7,8,9,10,11,12,13,14,15,16,17,18,19,20,21,22,23,40,50,60,80,100];
var tValues = [0,0.0285,0.0614,0.0987,0.1246,0.1404,0.148,0.148,0.138,0.1434,0.1495,0.1486,0.1395,0.118,0.135,0.1316,0.119,0.1018,0.0665,0.024,0.0255,0.026,0.027,0.029,0.0912,0.1073,0.1334,0.2258,0.318];
// phase boundaries (dashed)
var boundaryN = [8.5, 13.5, 18.5];
var boundaryTop = [0.13, 0.115, 0.028];
// region names
var regionNames = ['CC', 'SP', 'HC', 'Fluids', 'CC'];
var regionN = [4.4, 11.2, 16.8, 55.3, 72.8];
var regionT = [0.021, 0.08, 0.051, 0.251, 0.101];

var SERIF = "'Liberation Serif', 'DejaVu Serif', serif";

function tickList(lo, hi, step) {
  var out = [];
  var first = Math.ceil(lo / step - 1e-6);
  var last = Math.floor(hi / step + 1e-6);
  for (var i = first; i <= last; i++) out.push({ value: +(i * step).toFixed(6) });
  return out;
}
function isMajor(v, major) {
  return Math.abs(v / major - Math.round(v / major)) < 1e-6;
}
function fmt(v) { return String(+v.toFixed(2)); }

// inward ticks on all four sides plus the frame
var boxTicks = {
  id: 'boxTicks',
  afterDraw: function (chart, args, opts) {
    var ctx = chart.ctx, a = chart.chartArea, sx = chart.scales.x, sy = chart.scales.y;
    ctx.save();
    ctx.strokeStyle = '#000';
    ctx.lineWidth = 1;
    ctx.beginPath();
    sx.ticks.forEach(function (t) {
      var p = Math.round(sx.getPixelForValue(t.value)) + 0.5;
      var len = t.label ? opts.major : opts.minor;
      ctx.moveTo(p, a.bottom); ctx.lineTo(p, a.bottom - len);
      ctx.moveTo(p, a.top); ctx.lineTo(p, a.top + len);
    });
    sy.ticks.forEach(function (t) {
      var p = Math.round(sy.getPixelForValue(t.value)) + 0.5;
      var len = t.label ? opts.major : opts.minor;
      ctx.moveTo(a.left, p); ctx.lineTo(a.left + len, p);
      ctx.moveTo(a.right, p); ctx.lineTo(a.right - len, p);
    });
    ctx.stroke();
    ctx.lineWidth = 1.6;
    ctx.strokeRect(a.left, a.top, a.right - a.left, a.bottom - a.top);
    ctx.restore();
  }
};

function axis(lo, hi, minor, major, fontSize, pad, fitSize, isY) {
  return {
    type: 'linear', min: lo, max: hi,
    grid: { display: false, drawTicks: false },
    border: { display: false },
    afterBuildTicks: function (s) { s.ticks = tickList(lo, hi, minor); },
    afterFit: function (s) { if (isY) s.width = fitSize; else s.height = fitSize; },
    ticks: {
      autoSkip: false, maxRotation: 0, minRotation: 0, padding: pad, color: '#000',
      font: { family: SERIF, size: fontSize },
      callback: function (v) { return isMajor(v, major) ? fmt(v) : ''; }
    }
  };
}

function snapshot(id, pts, color, lim, minor, major, yWidth, xHeight, pad) {
  return new Chart(document.getElementById(id), {
    type: 'scatter',
    data: {
      datasets: [{
        data: pts.map(function (p) { return { x: p[0], y: p[1] }; }),
        borderColor: color, backgroundColor: 'rgba(0,0,0,0)',
        pointRadius: 2.2, pointBorderWidth: 1, clip: 2
      }]
    },
    options: {
      responsive: false, animation: false, events: [],
      layout: { padding: pad },
      plugins: { legend: { display: false }, tooltip: { enabled: false }, boxTicks: { major: 6, minor: 3 } },
      scales: {
        x: axis(-lim, lim, minor, major, 23, 4, xHeight, false),
        y: axis(-lim, lim, minor, major, 23, 17, yWidth, true)
      }
    },
    plugins: [boxTicks]
  });
}

snapshot('c1', n2Points, '#ff2a2a', 6, 2 / 3, 4, 71, 33, { top: 7, right: 14, left: 0, bottom: 0 });
snapshot('c2', n11Points, '#3a8a3a', 4, 0.3, 3, 67, 33, { top: 8, right: 5, left: 0, bottom: 0 });
snapshot('c3', n16Points, '#2a2aff', 3.5, 0.2, 2, 71, 37, { top: 13, right: 13, left: 0, bottom: 0 });
snapshot('c4', n20Points, '#7a40b0', 1.3, 0.1, 1, 67, 37, { top: 13, right: 5, left: 0, bottom: 0 });

// markers: circle with error bar
function marker(withBar) {
  var c = document.createElement('canvas');
  c.width = 12; c.height = 12;
  var g = c.getContext('2d');
  g.strokeStyle = '#ff0000';
  g.lineWidth = 1.4;
  g.beginPath(); g.arc(6, 6, 4.3, 0, Math.PI * 2); g.stroke();
  g.beginPath(); g.moveTo(1.7, 6); g.lineTo(10.3, 6);
  if (withBar) { g.moveTo(6, 3); g.lineTo(6, 9); }
  g.stroke();
  return c;
}
var plusMark = marker(true), minusMark = marker(false);

var regionText = {
  id: 'regionText',
  afterDatasetsDraw: function (chart) {
    var ctx = chart.ctx, sx = chart.scales.x, sy = chart.scales.y;
    ctx.save();
    ctx.font = '22px ' + SERIF;
    ctx.fillStyle = '#000';
    ctx.textAlign = 'center';
    ctx.textBaseline = 'middle';
    regionNames.forEach(function (t, i) {
      ctx.fillText(t, sx.getPixelForValue(regionN[i]), sy.getPixelForValue(regionT[i]));
    });
    ctx.restore();
  }
};

var lineSets = [{
  data: nValues.map(function (n, i) { return { x: n, y: tValues[i] }; }),
  borderColor: '#ff0000', borderWidth: 1.3, tension: 0, fill: false,
  pointStyle: function (c) { return c.raw && c.raw.x >= 40 ? minusMark : plusMark; },
  pointRadius: 5, clip: 6
}];
boundaryN.forEach(function (n, i) {
  lineSets.push({
    data: [{ x: n, y: 0 }, { x: n, y: boundaryTop[i] }],
    borderColor: '#ff0000', borderWidth: 1.4, borderDash: [6, 4], pointRadius: 0, fill: false
  });
});

new Chart(document.getElementById('c5'), {
  type: 'line',
  data: { datasets: lineSets },
  options: {
    responsive: false, animation: false, events: [],
    layout: { padding: { top: 16, right: 19, left: 0, bottom: 0 } },
    plugins: { legend: { display: false }, tooltip: { enabled: false }, boxTicks: { major: 6, minor: 3 } },
    scales: {
      x: axis(0, 100, 2, 20, 21, 6, 62, false),
      y: axis(0, 0.35, 0.01, 0.1, 21, 14, 91, true)
    }
  },
  plugins: [boxTicks, regionText]
});
</script>
</body>
</html>
